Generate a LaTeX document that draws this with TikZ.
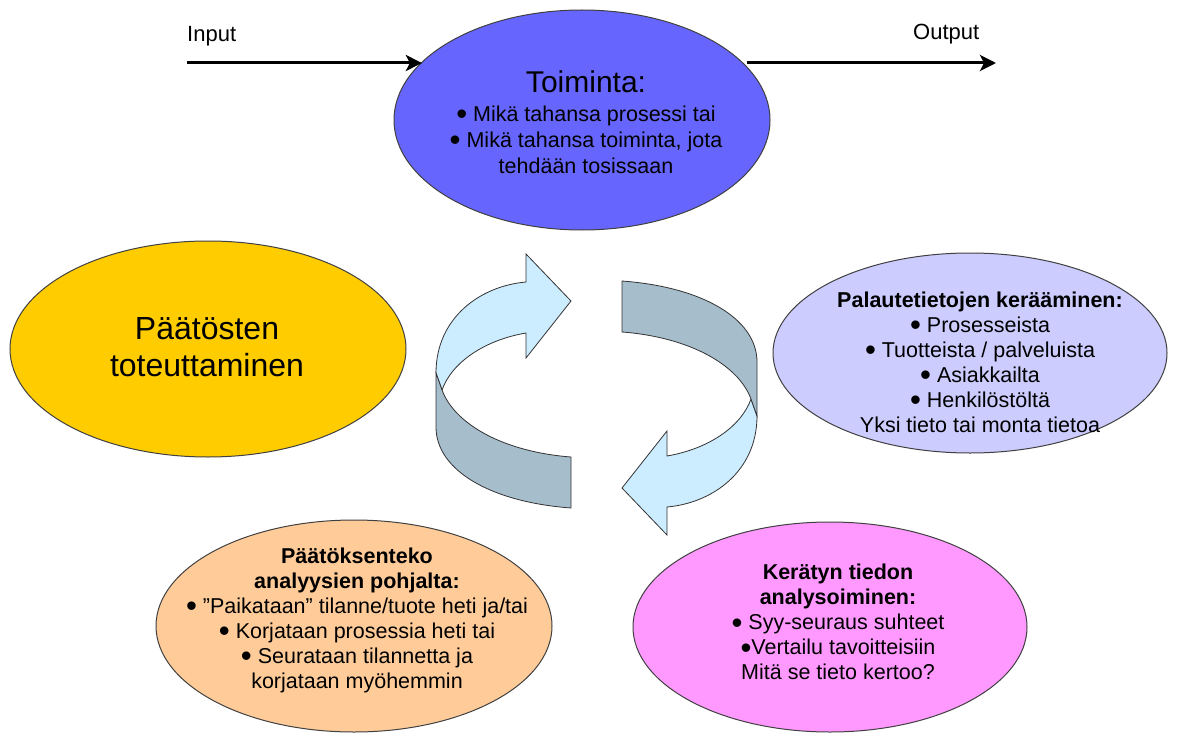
\documentclass[tikz,border=0pt]{standalone}
\usepackage{fontspec}
\setmainfont{Liberation Sans}
\usetikzlibrary{shapes.geometric,arrows.meta}

\definecolor{toimsin}{RGB}{102,102,255}
\definecolor{keltainen}{RGB}{255,204,0}
\definecolor{laventeli}{RGB}{204,204,255}
\definecolor{persikka}{RGB}{255,204,153}
\definecolor{pinkki}{RGB}{255,153,255}
\definecolor{vaalea}{RGB}{204,236,255}
\definecolor{harmaa}{RGB}{166,189,204}

% bigger bullet
\newcommand{\pallura}{\raisebox{-3.5pt}{\scalebox{1.45}{\textbullet}}}

% one half of the circular arrow pair
\newcommand{\kiertonuoli}{%
  \filldraw[nauha,fill=vaalea] (571,301)--(526,254)--(526,282)
    .. controls (480,286) and (436,318) .. (436,373)--(442,390)
    .. controls (452,362) and (485,340) .. (526,333)--(526,358)--cycle;
  \filldraw[nauha,fill=harmaa] (436,373)--(436,427)
    .. controls (436,470) and (490,502) .. (571,508)--(571,457)
    .. controls (505,452) and (455,425) .. (442,390)--cycle;}

\begin{document}
\begin{tikzpicture}[x=1pt,y=-1pt,
  pallo/.style={ellipse,draw=black!75,line width=1pt,inner sep=0pt},
  teksti/.style={align=center,inner sep=0pt,font=\fontsize{21.5}{25}\selectfont},
  nuoli/.style={line width=3pt,-{Stealth[length=16pt,width=16pt,inset=4pt]}},
  nauha/.style={draw=black!80,line width=0.8pt}]
\useasboundingbox (0,0) rectangle (1177,733);

\node[pallo,fill=toimsin,minimum width=376,minimum height=220] (toim) at (582,120) {};
\node[pallo,fill=keltainen,minimum width=396,minimum height=216] (toteutus) at (208,349) {};
\node[pallo,fill=laventeli,minimum width=394,minimum height=200] (keruu) at (970,353) {};
\node[pallo,fill=persikka,minimum width=396,minimum height=212] (paatos) at (354,626) {};
\node[pallo,fill=pinkki,minimum width=394,minimum height=210] (analyysi) at (830,627) {};

\node[teksti,font=\fontsize{21.5}{26}\selectfont] (toimtxt) at (586,122) {{\fontsize{30}{34}\selectfont Toiminta:}\\[3pt]
  \pallura{} Mikä tahansa prosessi tai\\
  \pallura{} Mikä tahansa toiminta, jota\\
  tehdään tosissaan};
\node[teksti,font=\fontsize{32}{37}\selectfont] (toteutustxt) at (207,347) {Päätösten\\toteuttaminen};
\node[teksti] (keruutxt) at (980,362) {\textbf{Palautetietojen kerääminen:}\\
  \pallura{} Prosesseista\\
  \pallura{} Tuotteista / palveluista\\
  \pallura{} Asiakkailta\\
  \pallura{} Henkilöstöltä\\
  Yksi tieto tai monta tietoa};
\node[teksti] (paatostxt) at (357,620) {\textbf{Päätöksenteko}\\
  \textbf{analyysien pohjalta:}\\
  \pallura{} ”Paikataan” tilanne/tuote heti ja/tai\\
  \pallura{} Korjataan prosessia heti tai\\
  \pallura{} Seurataan tilannetta ja\\
  korjataan myöhemmin};
\node[teksti] (analyysitxt) at (838,622) {\textbf{Kerätyn tiedon}\\
  \textbf{analysoiminen:}\\
  \pallura{} Syy-seuraus suhteet\\
  \pallura Vertailu tavoitteisiin\\
  Mitä se tieto kertoo?};

% input and output
\coordinate (alku) at (187,63);
\coordinate (loppu) at (996,63);
\draw[nuoli] (alku) -- (alku -| toim.160);
\draw[nuoli] (toim.18 |- loppu) -- (loppu);
\node[anchor=base west,inner sep=0pt,font=\fontsize{22}{26}\selectfont] (inlbl) at (187,42) {Input};
\node[anchor=base west,inner sep=0pt,font=\fontsize{22}{26}\selectfont] (outlbl) at (913,40) {Output};

% circular arrows
\kiertonuoli
\begin{scope}[rotate around={180:(596.5,394.5)}]
  \kiertonuoli
\end{scope}
\end{tikzpicture}
\end{document}
